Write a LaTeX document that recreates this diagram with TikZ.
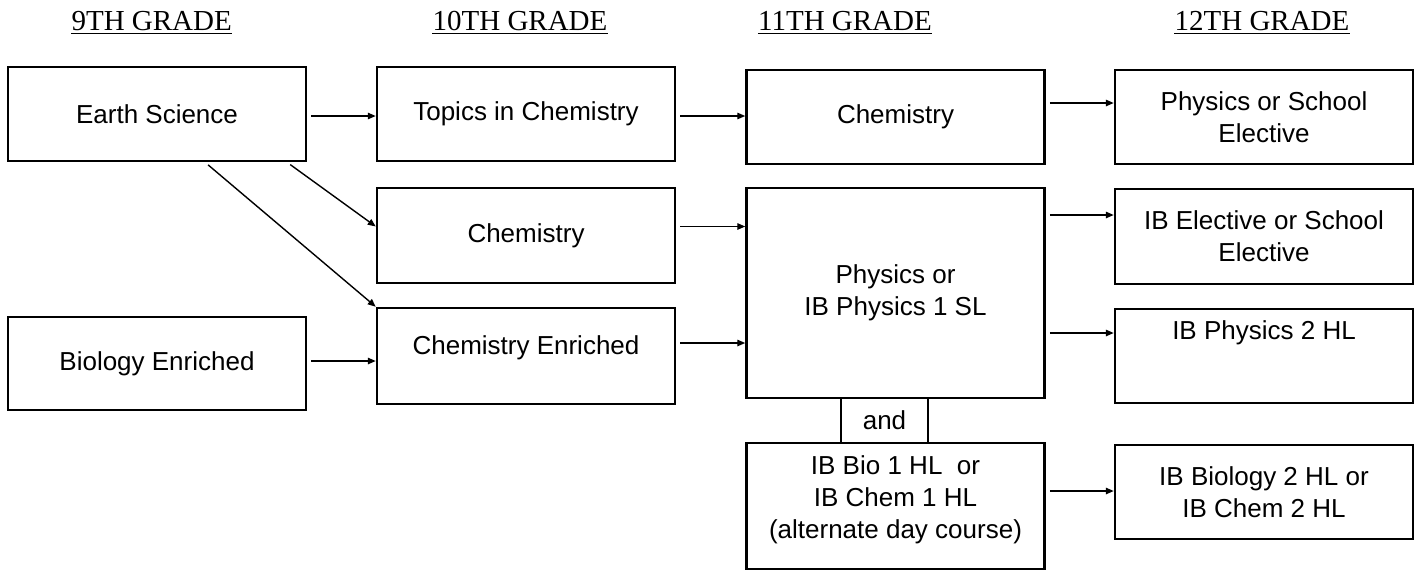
\documentclass[tikz,border=0pt]{standalone}
\usepackage{fontspec}
\setmainfont{Liberation Sans}
\newfontfamily\hdrfont{Liberation Serif}
\usetikzlibrary{arrows.meta,calc}
\newcommand\liftline[1]{\raisebox{6pt}[\height][\depth]{#1}}
\begin{document}
\begin{tikzpicture}[x=1pt,y=-1pt,
  box/.style={draw, line width=2.5pt, minimum width=298pt, inner sep=0pt, align=center,
    font=\fontsize{26}{32}\selectfont},
  arr/.style={line width=1.4pt, -{Triangle[length=8pt,width=6.5pt]}, shorten <=4pt},
  hdr/.style={font=\hdrfont\fontsize{29}{34}\selectfont, anchor=base, inner sep=0pt},
  uline/.style={line width=1.8pt}]
\useasboundingbox (0,0) rectangle (1423,571);
% headers
\node[hdr] (h9)  at (151.7,30) {9TH GRADE};
\node[hdr] (h10) at (520,30) {10TH GRADE};
\node[hdr] (h11) at (845,30) {11TH GRADE};
\node[hdr] (h12) at (1262,30) {12TH GRADE};
\foreach \h in {h9,h10,h11,h12}
  \draw[uline] ([yshift=-3.5pt]\h.base west) -- ([yshift=-3.5pt]\h.base east);
% boxes
\node[box, minimum height=94pt] (es) at (157,114) {Earth Science};
\node[box, minimum height=93pt] (be) at (157,363.5) {Biology Enriched};
\node[box, minimum height=94pt] (tc) at (526,114) {Topics in Chemistry};
\node[box, minimum height=95pt] (c10) at (526,235.5) {Chemistry};
\node[box, minimum height=96pt, text height=19pt, text depth=22pt] (ce) at (526,356) {Chemistry Enriched};
\node[box, minimum height=94pt] (c11) at (895.5,117) {Chemistry};
\node[box, minimum height=210pt] (ph) at (895.5,293) {Physics or\\IB Physics 1 SL};
\node[box, minimum width=87pt, minimum height=45pt] (an) at (884.5,420.5) {and};
\node[box, minimum height=126pt] (ib) at (895.5,506) {\liftline{IB Bio 1 HL\ \ or}\\\liftline{IB Chem 1 HL}\\\liftline{(alternate day course)}};
\node[box, minimum height=94pt] (ps) at (1264,117) {Physics or School\\Elective};
\node[box, minimum height=95pt] (ie) at (1264,236.5) {IB Elective or School\\Elective};
\node[box, minimum height=94pt, text height=19pt, text depth=52pt] (p2) at (1264,356) {IB Physics 2 HL};
\node[box, minimum height=94pt] (b2) at (1264,492) {IB Biology 2 HL or\\IB Chem 2 HL};
% connectors
\draw[arr] ([yshift=-2pt]es.east) -- ([yshift=-2pt]es.east -| tc.west);
\draw[arr] ([yshift=-2pt]tc.east) -- ([yshift=-2pt]tc.east -| c11.west);
\draw[arr] ([yshift=14pt]c11.east) -- ([yshift=14pt]ps.west);
\draw[arr] ([xshift=48pt]es.south) -- (ce.north west);
\draw[arr] ([xshift=130pt]es.south) -- ([yshift=9pt]c10.west);
\draw[arr] ([yshift=9pt]c10.east) -- ([yshift=9pt]c10.east -| ph.west);
\draw[arr] ([yshift=13pt]ce.east) -- ([yshift=13pt]ce.east -| ph.west);
\draw[arr] ([yshift=2.5pt]be.east) -- ([yshift=2.5pt]be.east -| ce.west);
\draw[arr] ([yshift=21.5pt]ie.west -| ph.east) -- ([yshift=21.5pt]ie.west);
\draw[arr] ([yshift=23pt]p2.west -| ph.east) -- ([yshift=23pt]p2.west);
\draw[arr] ([yshift=1pt]b2.west -| ib.east) -- ([yshift=1pt]b2.west);
\end{tikzpicture}
\end{document}
